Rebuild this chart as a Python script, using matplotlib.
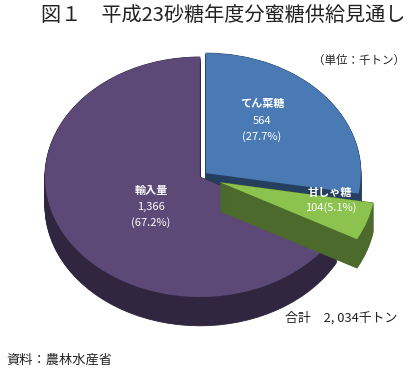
import matplotlib
matplotlib.use("Agg")
import matplotlib.pyplot as plt

plt.rcParams['font.family'] = ['Noto Sans CJK JP', 'DejaVu Sans']

# data (千トン)
names = ["てん菜糖", "甘しゃ糖", "輸入量"]
values = [564, 104, 1366]
shares = [27.7, 5.1, 67.2]
total = 2034

top_colors = ["#4a7ab3", "#8cc24e", "#5d4977"]
side_colors = ["#253f60", "#4c6a2c", "#30263f"]
explode = [0.05, 0.14, 0.0]
draw_order = [0, 2, 1]   # blue at back, purple, then green in front

depth = 0.24
n_layers = 30

fig = plt.figure(figsize=(4.16, 3.69), dpi=100)
ax = fig.add_axes([0, 0, 1, 1])

# side walls: stacked copies of the pie shifted down
for k in range(n_layers):
    off = -depth * (1 - k / (n_layers - 1))
    wedges, _ = ax.pie(values, explode=explode, startangle=90, counterclock=False,
                       colors=side_colors, center=(0, off), radius=1,
                       wedgeprops=dict(linewidth=0.6))
    for i, w in enumerate(wedges):
        w.set_edgecolor(side_colors[i])
        w.set_zorder(draw_order[i] * 100 + k)

# top face
wedges, _ = ax.pie(values, explode=explode, startangle=90, counterclock=False,
                   colors=top_colors, center=(0, 0), radius=1,
                   wedgeprops=dict(linewidth=0))
for i, w in enumerate(wedges):
    w.set_zorder(draw_order[i] * 100 + 99)

ax.set_aspect('auto')
ax.set_xlim(-1.290, 1.394)
ax.set_ylim(-1.60, 1.475)
ax.axis('off')

def px(x, y):
    return x / 416, 1 - y / 369

lab = dict(color="white", ha="center", va="center", zorder=1000, fontsize=8)
fig.text(*px(262, 103), names[0], fontweight="bold", **lab)
fig.text(*px(262, 121), f"{values[0]}", **lab)
fig.text(*px(262, 137), f"({shares[0]}%)", **lab)

fig.text(*px(330, 192), names[1], fontweight="bold", **lab)
fig.text(*px(331, 208), f"{values[1]}({shares[1]}%)", **lab)

fig.text(*px(151, 190), names[2], fontweight="bold", **lab)
fig.text(*px(151, 207), f"{values[2]:,}", **lab)
fig.text(*px(151, 223), f"({shares[2]}%)", **lab)

fig.text(*px(223, 15), "図１　平成23砂糖年度分蜜糖供給見通し", ha="center", va="center",
         fontsize=14.5, color="#222222")
fig.text(*px(405, 60), "（単位：千トン）", ha="right", va="center", fontsize=8.3, color="#222222")
fig.text(*px(397, 318), f"合計　2, {total % 1000:03d}千トン", ha="right", va="center",
         fontsize=9.3, color="#222222")
fig.text(*px(6, 360), "資料：農林水産省", ha="left", va="center", fontsize=9.5, color="#222222")

fig.savefig("out.png", dpi=100)
